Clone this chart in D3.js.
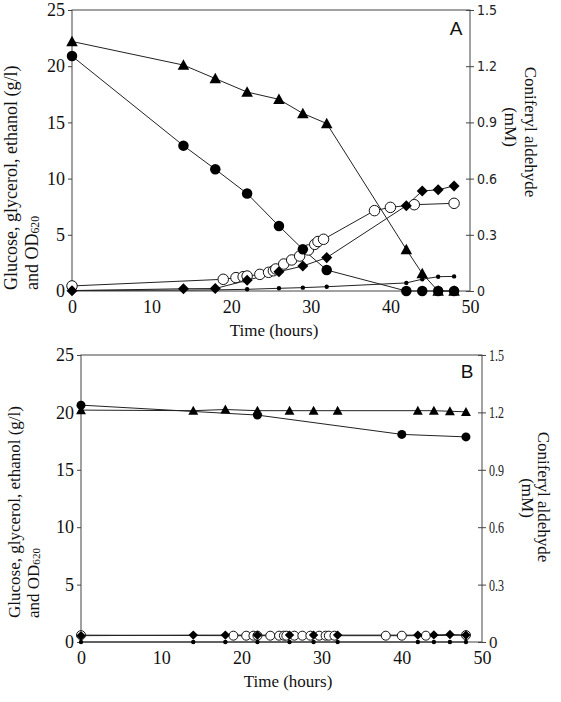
<!DOCTYPE html>
<html><head><meta charset="utf-8">
<script src="https://cdn.jsdelivr.net/npm/d3@7"></script>
<style>body{margin:0;background:#fff}svg{display:block}</style>
</head><body><svg id="c" width="561" height="702"></svg>
<script>
// ---------- data ----------
const hoursA = [0,14,18,22,26,29,32,42,44,46,48];
const glucoseA = [22.2,20.1,18.9,17.7,17.05,15.8,14.9,3.7,1.55,0,0];          // g/l (triangles)
const coniferylA = [1.254,0.776,0.65,0.52,0.347,0.223,0.112,0,0,0,0];        // mM (filled circles)
const ethanolA = [0.03,0.2,0.22,0.95,1.72,2.22,2.97,7.59,8.9,9.0,9.35];       // g/l (diamonds)
const glycerolA = [0.05,0.08,0.1,0.15,0.24,0.3,0.38,0.72,1.05,1.27,1.3];      // g/l (small dots)
const odHours = [0,19,20.6,21.5,22,23.6,24.7,25.3,25.6,26.6,27.6,28.6,29.7,30.5,30.9,31.6,38,40,43,48];
const odA = [0.45,1.04,1.19,1.27,1.33,1.48,1.66,1.8,1.96,2.4,2.76,3.11,3.65,4.15,4.4,4.6,7.15,7.44,7.68,7.8];

const hoursB = [0,14,18,22,26,29,32,42,44,46,48];
const glucoseB = [20.2,20.15,20.25,20.15,20.15,20.15,20.15,20.15,20.15,20.1,20.05];
const coniferylHoursB = [0,22,40,48];
const coniferylB = [1.238,1.186,1.085,1.072];
const ethanolB = [0.55,0.6,0.6,0.6,0.6,0.6,0.6,0.6,0.62,0.65,0.6];
const glycerolB = [0,0,0,0,0,0,0,0,0,0,0];
const odB = [0.6,0.55,0.55,0.55,0.55,0.55,0.55,0.55,0.55,0.55,0.55,0.55,0.55,0.55,0.55,0.55,0.55,0.55,0.55,0.6];

const leftTicks = [0,5,10,15,20,25];
const rightTicks = [0,0.3,0.6,0.9,1.2,1.5];
const xTicks = [0,10,20,30,40,50];

// ---------- drawing ----------
const svg = d3.select("#c");
const SERIF = "'Liberation Serif','Times New Roman',serif";
const NARROW = "'Liberation Sans Narrow','DejaVu Sans Condensed','Arial Narrow',sans-serif";
const SANS = "'Liberation Sans',Arial,sans-serif";

function tri(s){const h=s/2;return `M0,${-h} L${h},${h*0.82} L${-h},${h*0.82} Z`;}
function dia(s){const h=s/2;return `M0,${-h} L${h},0 L0,${h} L${-h},0 Z`;}

function panel(cfg){
  const g = svg.append("g");
  const x = d3.scaleLinear([0,50],[cfg.x0,cfg.x1]);
  const y = d3.scaleLinear([0,25],[cfg.y0,cfg.y1]);
  const yr = d3.scaleLinear([0,1.5],[cfg.y0,cfg.y1]);

  // box
  g.append("rect").attr("x",cfg.x0).attr("y",cfg.y1).attr("width",cfg.x1-cfg.x0).attr("height",cfg.y0-cfg.y1)
    .attr("fill","none").attr("stroke","#444").attr("stroke-width",1);

  // left axis
  const la = g.append("g").attr("transform",`translate(${cfg.x0},0)`)
    .call(d3.axisLeft(y).tickValues(leftTicks).tickSize(4).tickPadding(3));
  la.select(".domain").remove();
  la.selectAll("text").attr("font-family",SERIF).attr("font-size",18).attr("fill","#111");
  la.selectAll("line").attr("stroke","#444");

  // right axis
  const ra = g.append("g").attr("transform",`translate(${cfg.x1},0)`)
    .call(d3.axisRight(yr).tickValues(rightTicks).tickSize(4).tickPadding(cfg.rPad)
      .tickFormat(d=>d===0?"0":d.toFixed(1)));
  ra.select(".domain").remove();
  ra.selectAll("line").attr("x1",-4).attr("stroke","#444");
  ra.selectAll("text").attr("font-family",cfg.rFont).attr("font-size",cfg.rSize).attr("fill","#222");
  if(cfg.rCondense){
    ra.selectAll("text").each(function(d){ if(d!==0) d3.select(this).attr("textLength",15).attr("lengthAdjust","spacingAndGlyphs"); });
  }

  // bottom axis
  const ba = g.append("g").attr("transform",`translate(0,${cfg.y0})`)
    .call(d3.axisBottom(x).tickValues(xTicks).tickSize(0).tickPadding(0));
  ba.select(".domain").remove();
  ba.selectAll("text").attr("dy",null).attr("y",cfg.xLabY-cfg.y0)
    .attr("font-family",SERIF).attr("font-size",18).attr("fill","#111");

  // axis titles
  g.append("text").attr("x",cfg.tx).attr("y",cfg.ty).attr("text-anchor","middle")
    .attr("font-family",SERIF).attr("font-size",17).attr("fill","#111").text("Time (hours)");

  g.append("text").attr("transform",`translate(${cfg.l1x},${cfg.lStart}) rotate(-90)`)
    .attr("font-family",SERIF).attr("font-size",cfg.lSize).attr("fill","#111")
    .attr("dominant-baseline","central").text("Glucose, glycerol, ethanol (g/l)");
  const l2 = g.append("text").attr("transform",`translate(${cfg.l2x},${cfg.lStart}) rotate(-90)`)
    .attr("font-family",SERIF).attr("font-size",cfg.lSize).attr("fill","#111")
    .attr("dominant-baseline","central");
  l2.append("tspan").text("and OD");
  l2.append("tspan").attr("font-size",cfg.lSize*0.65).attr("dy",3).text("620");

  g.append("text").attr("transform",`translate(${cfg.r1x},${cfg.r1y}) rotate(90)`)
    .attr("text-anchor","middle").attr("dominant-baseline","central")
    .attr("font-family",SERIF).attr("font-size",17).attr("fill","#111").text("Coniferyl aldehyde");
  g.append("text").attr("transform",`translate(${cfg.r2x},${cfg.r2y}) rotate(90)`)
    .attr("text-anchor","middle").attr("dominant-baseline","central")
    .attr("font-family",SERIF).attr("font-size",17).attr("fill","#111").text("(mM)");

  // panel letter
  g.append("text").attr("x",cfg.letX).attr("y",cfg.letY).attr("text-anchor","middle")
    .attr("font-family",SANS).attr("font-size",19).attr("fill","#111").text(cfg.letter);

  // series
  const S = cfg.ms;
  const series = [
    {t:cfg.odT, v:cfg.od, sc:y, kind:"open"},
    {t:cfg.h, v:cfg.eth, sc:y, kind:"dia"},
    {t:cfg.h, v:cfg.gly, sc:y, kind:"dot"},
    {t:cfg.conT, v:cfg.con, sc:yr, kind:"circ"},
    {t:cfg.h, v:cfg.glu, sc:y, kind:"tri"}
  ];
  const line = (sc)=>d3.line().x(d=>x(d[0])).y(d=>sc(d[1]));
  series.forEach(s=>{
    const pts = s.t.map((t,i)=>[t,s.v[i]]);
    g.append("path").attr("d",line(s.sc)(pts)).attr("fill","none").attr("stroke","#222").attr("stroke-width",1);
  });
  series.forEach(s=>{
    const pts = s.t.map((t,i)=>[t,s.v[i]]);
    const sel = g.append("g").selectAll("path").data(pts).join("path")
      .attr("transform",d=>`translate(${x(d[0])},${s.sc(d[1])})`);
    if(s.kind==="open") sel.attr("d",d3.symbol(d3.symbolCircle, Math.PI*(S*0.5)**2)()).attr("fill","#fff").attr("stroke","#111").attr("stroke-width",1);
    if(s.kind==="circ") sel.attr("d",d3.symbol(d3.symbolCircle, Math.PI*(S*0.5)**2)()).attr("fill","#000");
    if(s.kind==="dot") sel.attr("d",d3.symbol(d3.symbolCircle, Math.PI*2.2*2.2)()).attr("fill","#000");
    if(s.kind==="dia") sel.attr("d",dia(S*1.05)).attr("fill","#000");
    if(s.kind==="tri") sel.attr("d",tri(S*1.1)).attr("fill","#000");
  });
}

panel({x0:72,x1:470,y0:291,y1:10,
  h:hoursA, glu:glucoseA, eth:ethanolA, gly:glycerolA, conT:hoursA, con:coniferylA, odT:odHours, od:odA,
  ms:10.5, xLabY:313, tx:274, ty:336,
  l1x:11, l2x:32, lStart:290, lSize:18,
  r1x:530, r1y:132, r2x:510, r2y:127,
  rFont:NARROW, rSize:14, rPad:3, rCondense:false,
  letter:"A", letX:456, letY:35});

panel({x0:81,x1:482,y0:642,y1:355,
  h:hoursB, glu:glucoseB, eth:ethanolB, gly:glycerolB, conT:coniferylHoursB, con:coniferylB, odT:odHours, od:odB,
  ms:9, xLabY:664, tx:288, ty:687,
  l1x:14, l2x:33, lStart:618, lSize:17,
  r1x:543, r1y:497, r2x:527, r2y:498,
  rFont:SERIF, rSize:17, rPad:3, rCondense:true,
  letter:"B", letX:467, letY:378});
</script>
</body></html>
